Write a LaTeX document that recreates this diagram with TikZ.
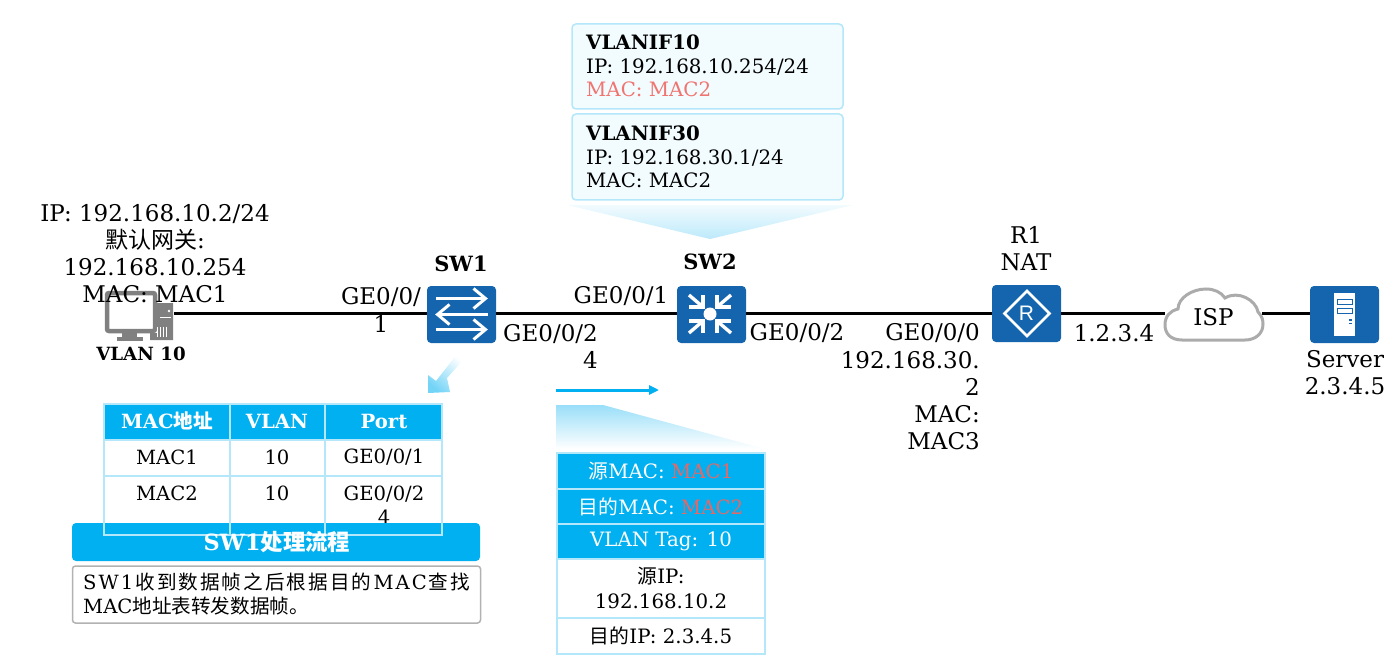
\documentclass[tikz,border=0pt]{standalone}
\usepackage{fontspec}
\setmainfont{DejaVu Serif}
\newfontfamily\cjk{Noto Sans CJK SC}
\newfontfamily\rsans{Liberation Sans}
\newcommand{\zh}[1]{{\cjk #1}}
\usetikzlibrary{arrows.meta,shapes.geometric}
\definecolor{cy}{HTML}{00B0F0}
\definecolor{ic}{HTML}{1565AE}
\definecolor{bd}{HTML}{B5E7FA}
\definecolor{pale}{HTML}{F2FBFE}
\definecolor{rd}{HTML}{F07470}
\definecolor{rd2}{HTML}{E06A6A}
\definecolor{gy}{HTML}{808080}
\tikzset{
 lbl/.style={inner sep=0pt,align=center,font=\fontsize{23}{27.2}\selectfont,text=black},
 rlbl/.style={lbl,align=right,anchor=east},
 bld/.style={lbl,font=\fontsize{21}{27}\selectfont\bfseries},
 tbl/.style={lbl,font=\fontsize{19.6}{24}\selectfont},
 tbh/.style={tbl,text=white,font=\fontsize{19.6}{24}\selectfont\bfseries},
 pkt/.style={lbl,font=\fontsize{19.8}{24.5}\selectfont},
 pkw/.style={pkt,text=white},
 icon/.style={fill=ic,rounded corners=4pt,minimum width=69pt,minimum height=57pt,inner sep=0pt},
 link/.style={line width=3pt,black},
 wln/.style={white,line width=3pt},
 cell/.style={draw=bd,line width=1.5pt},
 vbox/.style={draw=bd,fill=pale,line width=1.5pt,rounded corners=4pt},
 vtxt/.style={lbl,align=left,anchor=west,font=\fontsize{19.8}{23.6}\selectfont},
}
\begin{document}
\begin{tikzpicture}[x=1pt,y=-1pt]
\useasboundingbox (0,0) rectangle (1400,663);
% device nodes
\node[inner sep=0pt,minimum width=70pt,minimum height=55pt] (pc) at (139,314.5) {};
\node[icon] (sw1) at (461.5,314.5) {};
\node[icon] (sw2) at (711.5,314.5) {};
\node[icon] (r1) at (1026.5,313.5) {};
\node[icon] (srv) at (1344.5,314.5) {};
\node[inner sep=0pt,minimum width=97pt,minimum height=52pt] (isp) at (1213.5,314) {};
% links
\draw[link] (pc.east |- 0,313) -- (sw1.west |- 0,313);
\draw[link] (sw1.east |- 0,313) -- (sw2.west |- 0,313);
\draw[link] (sw2.east |- 0,313) -- (r1.west |- 0,313);
\draw[link] (r1.east |- 0,313) -- (isp.west |- 0,313);
\draw[link] (isp.east |- 0,313) -- (srv.west |- 0,313);
% PC icon
\fill[gy] (157,303) -- (173,303) -- (173,340) -- (150,340) -- (150,333) -- (157,333) -- cycle;
\draw[gy,line width=4.5pt,fill=white,rounded corners=2pt] (107,293) rectangle (155,331);
\fill[gy] (122,331) rectangle (137,337);
\fill[gy] (117,337) rectangle (143,340.5);
\fill[white] (169,311) circle (1.3pt);
\foreach \vx in {157,160,163,166}{\fill[white] (\vx,327) rectangle (\vx+1.2,337);}
\fill[white] (160,317) rectangle (171,318);
% SW1 icon
\begin{scope}[shift={(sw1.center)}]
 \draw[wln] (-26,-16) -- (24,-16); \draw[wln,line join=miter] (12,-26) -- (24,-16) -- (12,-6);
 \draw[wln] (26,0) -- (-24,0);  \draw[wln] (-12,-10) -- (-24,0) -- (-12,10);
 \draw[wln] (-26,15) -- (24,15); \draw[wln] (12,5) -- (24,15) -- (12,25);
\end{scope}
% SW2 icon
\begin{scope}[shift={(sw2.center)}]
 \fill[white] (-1.5,-0.5) circle (6.5pt);
 \foreach \sx/\sy in {-1/-1,1/-1,-1/1,1/1}{
  \draw[wln,line width=3.4pt] (-1.5+\sx*21,-0.5+\sy*19) -- (-1.5+\sx*7,-0.5+\sy*7);
  \draw[wln,line width=3.4pt] (-1.5+\sx*7,-0.5+\sy*19) -- (-1.5+\sx*7,-0.5+\sy*7) -- (-1.5+\sx*21,-0.5+\sy*7);
 }
\end{scope}
% R1 icon
\draw[white,line width=2.6pt,line join=miter] (1004.5,313.5) -- (1027,291) -- (1049.5,313.5) -- (1027,336) -- cycle;
\node[inner sep=0pt,text=white,font=\rsans\fontsize{21}{21}\selectfont] (rglyph) at (1026.5,313.5) {R};
% Server icon
\fill[white] (1334,293) rectangle (1355,336);
\draw[ic,line width=1pt] (1337.5,299.5) rectangle (1352,304);
\draw[ic,line width=1pt] (1337.5,308) rectangle (1352,313);
\fill[ic] (1349,319) rectangle (1352,320.5);
\fill[ic] (1349,322.5) rectangle (1352,324);
% cloud
\draw[draw=black!33,line width=3pt,fill=white]
 (1182,340) .. controls (1170,340) and (1165,333) .. (1165,325)
 .. controls (1165,316) and (1170,311) .. (1178,309)
 .. controls (1178,298) and (1192,289) .. (1206,289)
 .. controls (1214,289) and (1221,292) .. (1225,298)
 .. controls (1238,290) and (1256,300) .. (1258,312)
 .. controls (1262,316) and (1263,320) .. (1263,324)
 .. controls (1263,334) and (1255,340) .. (1245,340) -- cycle;
\node[lbl] (isptxt) at (isp.center) [yshift=-3pt] {ISP};
% device labels
\node[lbl] (pcinfo) at (155,253.5) {IP: 192.168.10.2/24\\\zh{默认网关}:\\192.168.10.254\\MAC: MAC1};
\node[bld,font=\fontsize{18.2}{20}\selectfont\bfseries] (pcv) at (141,354) {VLAN 10};
\node[bld] (sw1t) at (461,264) {SW1};
\node[bld] (sw2t) at (710,262) {SW2};
\node[lbl] (r1t) at (1026,248.5) {R1\\NAT};
\node[lbl] (srvt) at (1345,373) {Server\\2.3.4.5};
\node[lbl] (wan) at (1114,333) {1.2.3.4};
\node[lbl] (p1) at (381,310) {GE0/0/\\1};
\node[rlbl] (p2) at (598,346.5) {GE0/0/2\\4};
\node[lbl] (p3) at (621,296) {GE0/0/1};
\node[lbl] (p4) at (797,333) {GE0/0/2};
\node[rlbl] (p5) at (980,387) {GE0/0/0\\192.168.30.\\2\\MAC:\\MAC3};
% VLANIF
\node[vbox,minimum width=271pt,minimum height=85pt,inner sep=0pt] (vif10) at (707.5,66.5) {};
\node[vbox,minimum width=271pt,minimum height=86pt,inner sep=0pt] (vif30) at (707.5,157) {};
\node[vtxt] (v10) at (586,66) {\textbf{VLANIF10}\\IP: 192.168.10.254/24\\\textcolor{rd}{MAC: MAC2}};
\node[vtxt] (v30) at (586,157) {\textbf{VLANIF30}\\IP: 192.168.30.1/24\\MAC: MAC2};
\shade[top color=pale,bottom color=bd!90] (567,205) -- (853,205) -- (710,239) -- cycle;
% blue arrow to table
\shade[shading=axis,top color=white,bottom color=cy!55,shading angle=-42]
 (464,359) -- (447,378) -- (450,392) -- (428,393) -- (428,375) -- (436,381) -- (458,353) -- cycle;
% MAC table
\fill[cy] (104,404) rectangle (442,440);
\node[tbh] (h1) at (167,421) {MAC\zh{地址}};
\node[tbh] (h2) at (277,421) {VLAN};
\node[tbh] (h3) at (384,421) {Port};
\node[tbl] (a1) at (167,457.5) {MAC1};
\node[tbl] (a2) at (277,457.5) {10};
\node[tbl] (a3) at (384,457.5) {GE0/0/1};
\node[tbl] (b1) at (167,493.5) {MAC2};
\node[tbl] (b2) at (277,493.5) {10};
\node[tbl] (b3) at (384,505.5) {GE0/0/2\\4};
% flow bar + box
\fill[cy,rounded corners=4pt] (72,523) rectangle (480,561);
\draw[draw=black!30,line width=1.5pt,fill=white,rounded corners=3pt] (72.5,566) rectangle (480.5,623);
\draw[cell] (104,404) rectangle (442,535);
\draw[cell] (230,404) -- (230,535) (325,404) -- (325,535) (104,440) -- (442,440) (104,476) -- (442,476);
\node[lbl,text=white,font=\fontsize{22.4}{24}\selectfont\bfseries] (flow) at (277,542) {SW1\zh{处理流程}};
\node[tbl,anchor=west] (ft1) at (83,582) {\makebox[387pt][s]{S\hfil W\hfil 1\hfil\zh{收}\hfil\zh{到}\hfil\zh{数}\hfil\zh{据}\hfil\zh{帧}\hfil\zh{之}\hfil\zh{后}\hfil\zh{根}\hfil\zh{据}\hfil\zh{目}\hfil\zh{的}\hfil M\hfil A\hfil C\hfil\zh{查}\hfil\zh{找}}};
\node[tbl,anchor=west] (ft2) at (83,606) {MAC\zh{地址表转发数据帧。}};
% direction arrow
\coordinate (da) at (556,390); \coordinate (db) at (659,390);
\draw[cy,line width=3pt,-{Triangle[length=10pt,width=9pt]}] (da) -- (db);
\shade[top color=bd!85!cy,bottom color=white] (556,405) -- (603,405) -- (765,449) -- (556,449) -- cycle;
% packet
\fill[cy] (557,453) rectangle (765,559);
\draw[cell] (557,453) rectangle (765,654);
\draw[cell] (557,489) -- (765,489) (557,524) -- (765,524) (557,559) -- (765,559) (557,618) -- (765,618);
\node[pkw] (k1) at (661,471.5) {\zh{源}MAC: \textcolor{rd2}{MAC1}};
\node[pkw] (k2) at (661,506.5) {\zh{目的}MAC: \textcolor{rd2}{MAC2}};
\node[pkw] (k3) at (661,541.5) {VLAN Tag: 10};
\node[pkt] (k4) at (661,588) {\zh{源}IP:\\192.168.10.2};
\node[pkt] (k5) at (661,636) {\zh{目的}IP: 2.3.4.5};
\end{tikzpicture}
\end{document}
